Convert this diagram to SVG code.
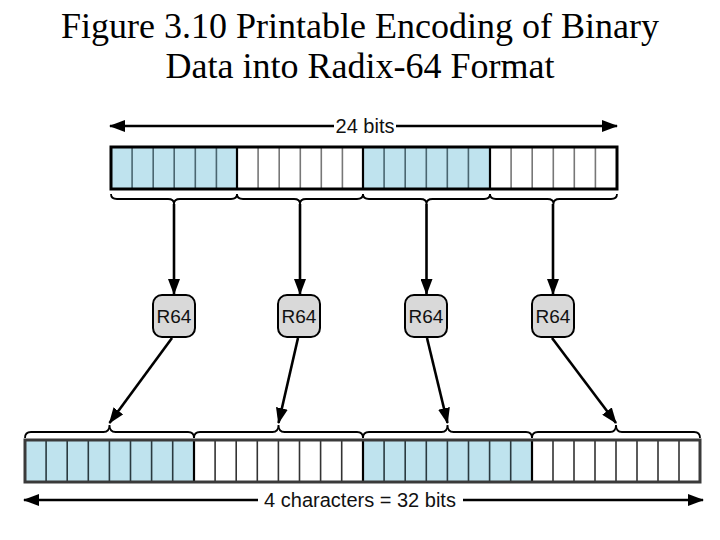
<svg xmlns="http://www.w3.org/2000/svg" width="720" height="540" viewBox="0 0 720 540">
<style>
.title{font-family:"Liberation Serif","Times New Roman",serif;font-size:36px;fill:#000;text-anchor:middle}
.lbl{font-family:"Liberation Sans",Arial,sans-serif;font-size:20px;fill:#111;text-anchor:middle}
.r64{font-family:"Liberation Sans",Arial,sans-serif;font-size:19px;fill:#111;text-anchor:middle}
.blue{fill:#bfe3ee}
.white{fill:#fff}
.divb{stroke:#4a6670;stroke-width:1.6}
.divw{stroke:#777;stroke-width:1.6}
.sec{stroke:#000;stroke-width:2.2}
.frame{fill:none;stroke:#000;stroke-width:3}
.frame2{fill:none;stroke:#3a3a3a;stroke-width:3}
.brace{fill:none;stroke:#000;stroke-width:1.8}
.conn{fill:none;stroke:#000;stroke-width:2.6}
.box{fill:#d9d9d9;stroke:#000;stroke-width:2}
</style>
<defs>
<marker id="ah" markerUnits="userSpaceOnUse" markerWidth="16" markerHeight="12" refX="15" refY="6" orient="auto-start-reverse">
<path d="M0,0 L16,6 L0,12 z" fill="#000"/>
</marker>
</defs>

<g id="title">
<text class="title" x="360" y="38">Figure 3.10 Printable Encoding of Binary</text>
<text class="title" x="360" y="78">Data into Radix-64 Format</text>
</g>

<g id="top-dimension">
<path class="conn" d="M110 126 H334 M396 126 H617" marker-start="url(#ah)" marker-end="url(#ah)"/>
<text class="lbl" x="365" y="133">24 bits</text>
</g>

<g id="top-bar">
<rect class="blue" x="111" y="147" width="126" height="42"/>
<rect class="white" x="237" y="147" width="126" height="42"/>
<rect class="blue" x="363" y="147" width="127" height="42"/>
<rect class="white" x="490" y="147" width="127" height="42"/>
<path class="divb" d="M132.1 147V189M153.2 147V189M174.2 147V189M195.3 147V189M216.4 147V189M384.1 147V189M405.2 147V189M426.3 147V189M447.3 147V189M468.4 147V189"/>
<path class="divw" d="M258.1 147V189M279.2 147V189M300.3 147V189M321.3 147V189M342.4 147V189M511.1 147V189M532.2 147V189M553.3 147V189M574.3 147V189M595.4 147V189"/>
<path class="sec" d="M237 147V189M363 147V189M490 147V189"/>
<rect class="frame" x="111" y="147" width="506" height="42"/>
</g>

<g id="connectors">
<path class="brace" d="M111 194 Q111 199 117 199 L168 199 Q174 199 174 204 Q174 199 180 199 L231 199 Q237 199 237 194"/>
<path class="brace" d="M237 194 Q237 199 243 199 L294 199 Q300 199 300 204 Q300 199 306 199 L357 199 Q363 199 363 194"/>
<path class="brace" d="M363 194 Q363 199 369 199 L420.5 199 Q426.5 199 426.5 204 Q426.5 199 432.5 199 L484 199 Q490 199 490 194"/>
<path class="brace" d="M490 194 Q490 199 496 199 L547.5 199 Q553.5 199 553.5 204 Q553.5 199 559.5 199 L611 199 Q617 199 617 194"/>
<path class="conn" d="M174 204 V294" marker-end="url(#ah)"/>
<path class="conn" d="M300 204 V294" marker-end="url(#ah)"/>
<path class="conn" d="M426.5 204 V294" marker-end="url(#ah)"/>
<path class="conn" d="M553 204 V294" marker-end="url(#ah)"/>
<path class="conn" d="M172 338 L109.5 423" marker-end="url(#ah)"/>
<path class="conn" d="M298 338 L278.5 423" marker-end="url(#ah)"/>
<path class="conn" d="M427 338 L447.5 423" marker-end="url(#ah)"/>
<path class="conn" d="M552 338 L616 423" marker-end="url(#ah)"/>
<path class="brace" d="M25 438 Q25 432 31 432 L103.5 432 Q109.5 432 109.5 425 Q109.5 432 115.5 432 L188 432 Q194 432 194 438"/>
<path class="brace" d="M194 438 Q194 432 200 432 L272.5 432 Q278.5 432 278.5 425 Q278.5 432 284.5 432 L357 432 Q363 432 363 438"/>
<path class="brace" d="M363 438 Q363 432 369 432 L441.5 432 Q447.5 432 447.5 425 Q447.5 432 453.5 432 L526 432 Q532 432 532 438"/>
<path class="brace" d="M532 438 Q532 432 538 432 L610 432 Q616 432 616 425 Q616 432 622 432 L694 432 Q700 432 700 438"/>
</g>

<g id="r64-1"><rect class="box" x="153" y="295" width="42" height="42" rx="9"/><text class="r64" x="174" y="323">R64</text></g>
<g id="r64-2"><rect class="box" x="278" y="295" width="42" height="42" rx="9"/><text class="r64" x="299" y="323">R64</text></g>
<g id="r64-3"><rect class="box" x="405" y="295" width="42" height="42" rx="9"/><text class="r64" x="426" y="323">R64</text></g>
<g id="r64-4"><rect class="box" x="532" y="295" width="42" height="42" rx="9"/><text class="r64" x="553" y="323">R64</text></g>

<g id="bottom-bar">
<rect class="blue" x="25" y="440" width="169" height="42"/>
<rect class="white" x="194" y="440" width="169" height="42"/>
<rect class="blue" x="363" y="440" width="169" height="42"/>
<rect class="white" x="532" y="440" width="168" height="42"/>
<path class="divb" style="stroke:#2a3a40" d="M46.1 440V482M67.2 440V482M88.3 440V482M109.4 440V482M130.5 440V482M151.6 440V482M172.7 440V482M384.1 440V482M405.2 440V482M426.3 440V482M447.4 440V482M468.5 440V482M489.6 440V482M510.7 440V482"/>
<path class="divw" style="stroke:#333" d="M215.1 440V482M236.2 440V482M257.3 440V482M278.4 440V482M299.5 440V482M320.6 440V482M341.7 440V482M553 440V482M574 440V482M595 440V482M616 440V482M637 440V482M658 440V482M679 440V482"/>
<path class="sec" d="M194 440V482M363 440V482M532 440V482"/>
<rect class="frame2" x="25" y="440" width="675" height="42"/>
</g>

<g id="bottom-dimension">
<path class="conn" d="M24 500 H258 M463 500 H703" marker-start="url(#ah)" marker-end="url(#ah)"/>
<text class="lbl" x="360" y="507">4 characters = 32 bits</text>
</g>
</svg>
